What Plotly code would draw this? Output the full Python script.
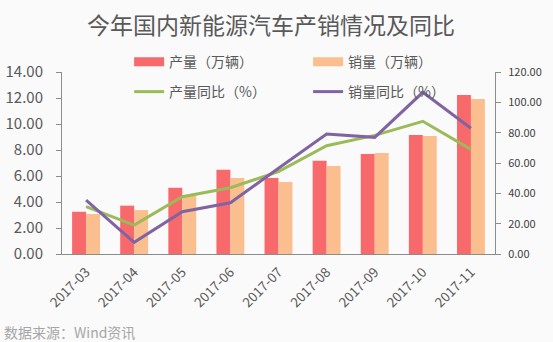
import plotly.graph_objects as go

months = ["2017-03", "2017-04", "2017-05", "2017-06", "2017-07",
          "2017-08", "2017-09", "2017-10", "2017-11"]
production = [3.25, 3.72, 5.10, 6.49, 5.85, 7.18, 7.69, 9.15, 12.23]   # 万辆
sales = [3.08, 3.38, 4.54, 5.85, 5.54, 6.77, 7.77, 9.08, 11.92]        # 万辆
production_yoy = [31.2, 19.1, 37.8, 43.7, 54.3, 71.4, 78.2, 87.5, 69.0]  # %
sales_yoy = [35.6, 7.7, 27.9, 33.8, 56.5, 79.1, 76.9, 106.6, 82.9]       # %

RED = "#f8696b"
ORANGE = "#fbbf8f"
GREEN = "#9bbb59"
PURPLE = "#8064a2"
TEXT = "#595959"
AXIS = "#8c8c8c"
FONT = "Noto Sans CJK SC"

fig = go.Figure()

fig.add_trace(go.Bar(x=months, y=production, name="产量（万辆）",
                     marker=dict(color=RED, line_width=0), showlegend=False))
fig.add_trace(go.Bar(x=months, y=sales, name="销量（万辆）",
                     marker=dict(color=ORANGE, line_width=0), showlegend=False))
fig.add_trace(go.Scatter(x=months, y=production_yoy, name="产量同比（%）",
                         mode="lines", line=dict(color=GREEN, width=3),
                         yaxis="y2", legend="legend2"))
fig.add_trace(go.Scatter(x=months, y=sales_yoy, name="销量同比（%）",
                         mode="lines", line=dict(color=PURPLE, width=3),
                         yaxis="y2", legend="legend2"))

# rectangular legend swatches for the bar series
fig.add_trace(go.Scatter(x=[None], y=[None], name="产量（万辆）", mode="lines",
                         line=dict(color=RED, width=9), legend="legend"))
fig.add_trace(go.Scatter(x=[None], y=[None], name="销量（万辆）", mode="lines",
                         line=dict(color=ORANGE, width=9), legend="legend"))

legend_common = dict(orientation="h", xanchor="left", yanchor="middle",
                     entrywidth=134, entrywidthmode="pixels",
                     bgcolor="rgba(0,0,0,0)", borderwidth=0,
                     font=dict(family=FONT, size=14, color=TEXT),
                     traceorder="normal", itemclick=False)

fig.update_layout(
    width=553, height=342,
    margin=dict(l=62, r=58, t=72, b=88),
    paper_bgcolor="#fafafa", plot_bgcolor="#fafafa",
    font=dict(family=FONT, color=TEXT),
    title=dict(text="今年国内新能源汽车产销情况及同比", x=0.49, xanchor="center",
               y=0.925, yanchor="middle",
               font=dict(family=FONT, size=23, color=TEXT)),
    barmode="group", bargap=0.42, bargroupgap=0,
    legend=dict(x=0.155, y=1.054, **legend_common),
    legend2=dict(x=0.155, y=0.89, **legend_common),
    xaxis=dict(type="category", showline=True, linecolor=AXIS, linewidth=1,
               ticks="", tickangle=-45, showgrid=False, automargin=False,
               ticklabelstandoff=4,
               tickfont=dict(family=FONT, size=13.5, color=TEXT)),
    yaxis=dict(range=[0, 14], dtick=2, tickformat=".2f", showgrid=False,
               showline=True, linecolor=AXIS, linewidth=1, ticks="outside",
               ticklen=5, tickcolor=AXIS, zeroline=False, ticklabelstandoff=10,
               automargin=False,
               tickfont=dict(family=FONT, size=15, color=TEXT)),
    yaxis2=dict(range=[0, 120], dtick=20, tickformat=".2f", showgrid=False,
                overlaying="y", side="right", showline=True, linecolor=AXIS,
                linewidth=1, ticks="outside", ticklen=5, tickcolor=AXIS,
                zeroline=False, ticklabelstandoff=5, automargin=False,
                tickfont=dict(family=FONT, size=11, color="#404040")),
    annotations=[dict(text="数据来源：Wind资讯", xref="paper", yref="paper",
                      x=-60 / 433, y=-78 / 182, xanchor="left", yanchor="middle",
                      showarrow=False,
                      font=dict(family=FONT, size=14, color="#a6a6a6"))],
)

fig.write_html("out.html")
